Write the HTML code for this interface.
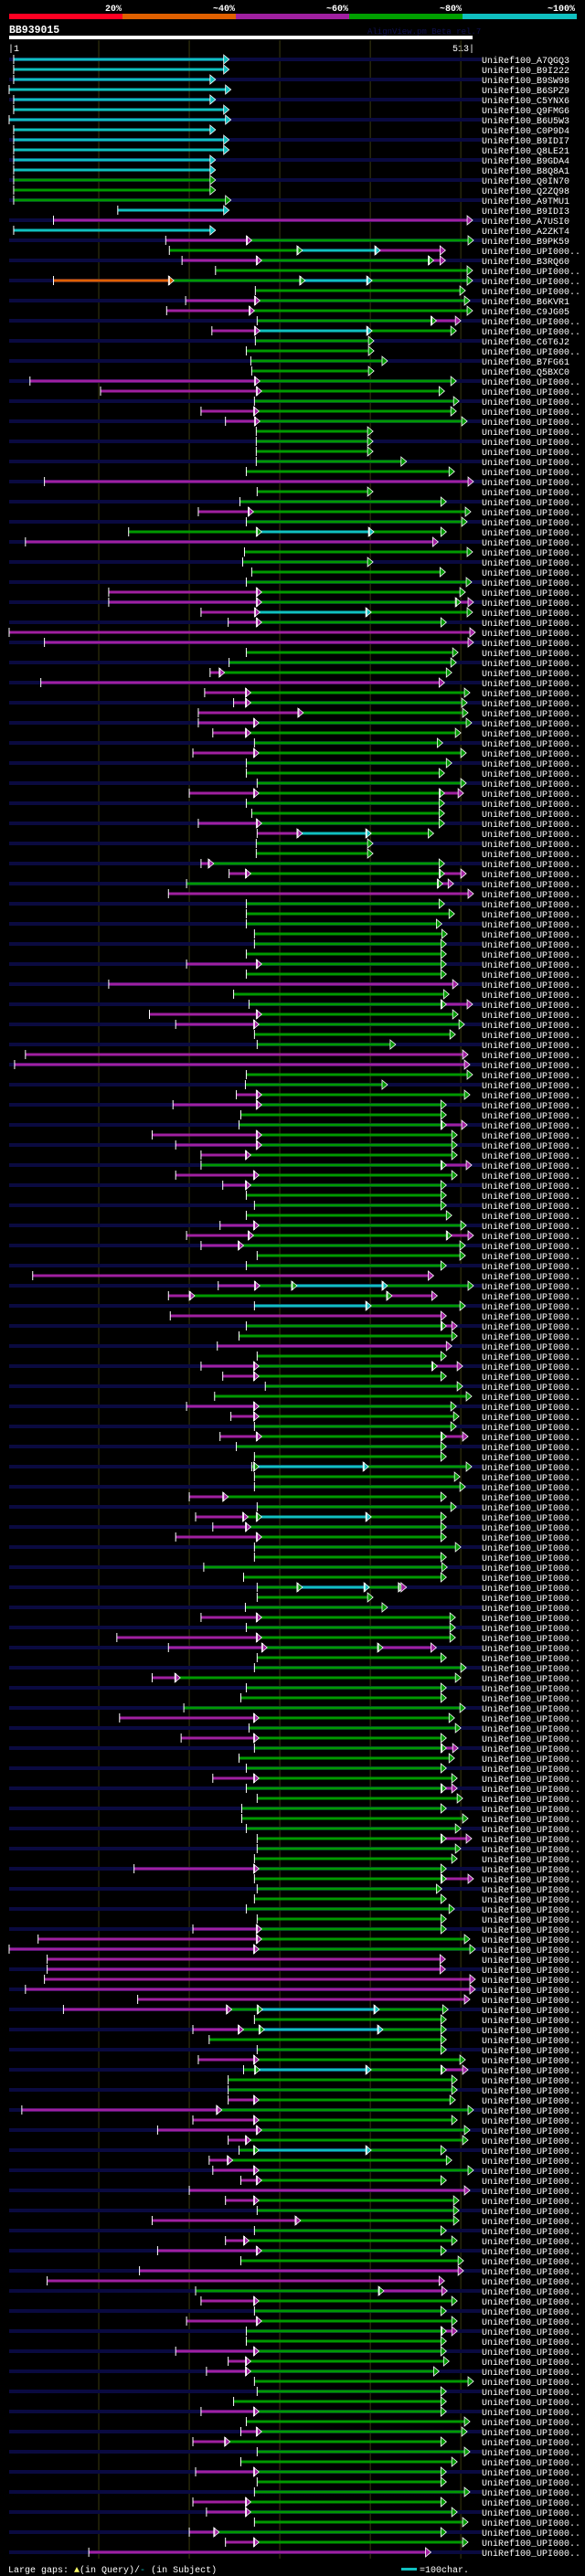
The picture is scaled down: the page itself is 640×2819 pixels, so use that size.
<!DOCTYPE html>
<html><head><meta charset="utf-8">
<style>
html,body{margin:0;padding:0;background:#000;}
svg{display:block;}
text{font-family:"Liberation Mono","DejaVu Sans Mono",monospace;}
</style></head>
<body>
<svg id="chart" width="640" height="2819" viewBox="0 0 640 2819" xmlns="http://www.w3.org/2000/svg">
  <rect x="0" y="0" width="640" height="2819" fill="#000"/>
  <g>
    <rect x="10" y="15" width="124" height="6" fill="#ff0022"/>
    <rect x="134" y="15" width="124" height="6" fill="#e06000"/>
    <rect x="258" y="15" width="124" height="6" fill="#a020a0"/>
    <rect x="382" y="15" width="124" height="6" fill="#00a000"/>
    <rect x="506" y="15" width="125" height="6" fill="#10c0c0"/>
    <text x="133" y="12" text-anchor="end" font-size="10" font-weight="bold" fill="#fff">20%</text>
    <text x="257" y="12" text-anchor="end" font-size="10" font-weight="bold" fill="#fff">~40%</text>
    <text x="381" y="12" text-anchor="end" font-size="10" font-weight="bold" fill="#fff">~60%</text>
    <text x="505" y="12" text-anchor="end" font-size="10" font-weight="bold" fill="#fff">~80%</text>
    <text x="629" y="12" text-anchor="end" font-size="10" font-weight="bold" fill="#fff">~100%</text>
  </g>
  <text x="10" y="36" font-size="11.5" font-weight="bold" fill="#fff">BB939015</text>
  <text x="402" y="37" font-size="9" fill="#101050">AlignView.pm Beta rel.7</text>
  <rect x="10" y="39" width="507" height="4" fill="#fff"/>
  <text x="9" y="56" font-size="10" fill="#fff">|1</text>
  <text x="519" y="56" text-anchor="end" font-size="10" fill="#fff">513|</text>
  <g id="grid"></g>
  <g id="rows"></g>
  <g>
    <text x="9" y="2815" font-size="10" fill="#fff">Large gaps: <tspan fill="#ffff66">▲</tspan>(in Query)/<tspan fill="#10c0c0">-</tspan> (in Subject)</text>
    <rect x="439" y="2810" width="17" height="3" fill="#10c0c0"/>
    <text x="459" y="2815" font-size="10" fill="#fff">=100char.</text>
  </g>
</svg>
<script>
const qLen = 513;
const gridTicks = [100, 200, 300, 400, 500];
const hitRows = [
"c6-239","c6-239","c6-224","c1-241","c6-224","c6-239","c1-241","c6-224","c6-239","c6-239",
"c6-224","c6-224","g6-224","g6-224","g6-241","c121-239","m50-508","c6-224","m174-264 g264-509","g178-320 c320-406 m406-478",
"m192-275 g275-465 m465-478","g229-508","o50-178 g178-323 c323-397 g397-508","g273-500","m196-273 g273-505","m175-267 g267-508","g275-468 m468-495","m225-273 c273-397 g397-490","g273-399","g263-399",
"g268-414","g269-399","m24-273 g273-490","m102-275 g275-477","g272-493","m213-272 g272-490","m240-273 g273-502","g274-398","g274-398","g274-398",
"g274-435","g263-488","m40-509","g275-398","g256-479","m210-266 g266-506","g263-502","g133-275 c275-399 g399-479","m19-470","g261-508",
"g259-398","g269-478","g263-507","m111-275 g275-500","m111-275 g275-495 m495-509","m213-273 c273-396 g396-508","m243-275 g275-479","m1-511","m40-509","g263-492",
"g244-490","m223-234 g234-485","m36-477","m217-263 g263-505","m249-263 g263-502","m210-321 g321-503","m210-272 g272-507","m226-263 g263-495","g272-475","m204-272 g272-501",
"g263-485","g263-477","g275-501","m200-272 g272-477 m477-498","g263-477","g269-477","m210-275 g275-477","m275-320 c320-396 g396-465","g274-398","g274-398",
"m213-222 g222-477","m244-263 g263-477 m477-501","g197-475 m475-487","m177-509","g263-477","g263-488","g263-474","g272-480","g272-479","g263-479",
"m197-275 g275-479","g263-479","m111-492","g249-482","g266-479 m479-508","m156-275 g275-492","m185-272 g272-499","g272-489","g275-423","m19-503",
"m7-505","g263-508","g262-414","m252-275 g275-505","m182-275 g275-479","g257-479","g255-479 m479-502","m159-275 g275-491","m185-275 g275-491","m213-263 g263-491",
"g213-479 m479-507","m185-272 g272-491","m237-263 g263-479","g263-479","g272-479","g263-485","m234-272 g272-501","m197-266 g266-485 m485-509","m213-255 g255-500","g275-500",
"g263-479","m27-465","m232-273 g273-314 c314-414 g414-509","m177-201 g201-419 m419-469","c272-396 g396-500","m179-479","g263-479 m479-491","g255-491","m231-485","g275-479",
"m213-272 g272-469 m469-497","m237-272 g272-479","g284-497","g228-507","m197-272 g272-490","m246-272 g272-493","g272-490","m234-275 g275-479 m479-503","g252-479","g272-479",
"g269-272 c272-393 g393-507","g272-494","g272-500","m200-238 g238-479","g275-490","m207-260 g260-275 c275-396 g396-479","m226-263 g263-479","m185-275 g275-479","g272-495","g272-479",
"g216-480","g260-479","g275-320 c320-394 g394-432 m432-435","g275-398","g262-414","m213-275 g275-489","g263-489","m120-275 g275-489","m177-281 g281-409 m409-468","g275-479",
"g272-501","m159-185 g185-495","g263-479","g257-479","g194-500","m123-272 g272-488","g266-495","m191-272 g272-479","g272-479 m479-492","g255-488",
"g263-479","m226-272 g272-491","g263-479 m479-491","g275-497","g258-479","g258-503","g263-495","g275-479 m479-507","g275-495","g272-491",
"m139-272 g272-479","g272-479 m479-509","g275-474","g272-479","g263-488","g275-479","m204-275 g275-479","m33-275 g275-505","m1-272 g272-511","m43-478",
"m43-478","m40-511","m19-511","m143-505","m61-242 g242-276 c276-405 g405-481","g272-479","m204-255 g255-278 c278-409 g409-479","g222-479","g275-479","m210-272 g272-500",
"g260-273 c273-396 g396-479 m479-503","g243-491","g243-491","m243-272 g272-489","m15-231 g231-509","m204-272 g272-491","m165-275 g275-505","m243-263 g263-503","g255-272 c272-396 g396-479","m222-243 g243-485",
"m226-272 g272-509","m257-275 g275-479","m200-505","m240-272 g272-493","g275-493","m159-318 g318-493","g272-479","m240-261 g261-491","m165-275 g275-479","g257-498",
"m145-498","m43-477","g207-410 m410-480","m213-272 g272-491","g272-479","m197-275 g275-491","g263-479 m479-491","g263-479","m185-272 g272-479","m243-263 g263-482",
"m219-263 g263-471","g272-509","g275-479","g249-479","m213-272 g272-479","g263-505","m257-275 g275-502","m204-240 g240-479","g275-505","g257-491",
"m207-272 g272-479","g275-479","g272-505","m204-263 g263-479","m219-263 g263-491","g272-503","m200-228 g228-479","m240-272 g272-503","m89-462"
];
const hitNames = ["A7QGQ3","B9I222","B9SW98","B6SPZ9","C5YNX6","Q9FMG6","B6U5W3","C0P9D4","B9IDI7","Q8LE21",
"B9GDA4","B8Q8A1","Q0IN70","Q2ZQ98","A9TMU1","B9IDI3","A7USI0","A2ZKT4","B9PK59","UPI000..",
"B3RQ60","UPI000..","UPI000..","UPI000..","B6KVR1","C9JG05","UPI000..","UPI000..","C6T6J2","UPI000..",
"B7FG61","Q5BXC0","UPI000..","UPI000.."];
const colorMap = {c:"#10c0c0", g:"#009900", m:"#a020a0", o:"#e06000"};

const X0 = 10, X1 = 517, ROW0 = 65, ROWH = 11;
function xScale(r){ return X0 + (r - 1) * (X1 - X0) / (qLen - 1); }
function yRow(i){ return ROW0 + i * ROWH; }
const NS = "http://www.w3.org/2000/svg";
function mk(tag, attrs){ const e = document.createElementNS(NS, tag); for (const k in attrs) e.setAttribute(k, attrs[k]); return e; }

const grid = document.getElementById("grid");
gridTicks.forEach(t => {
  const ln = mk("line", {x1: xScale(t), x2: xScale(t), y1: 44, y2: 2800, stroke: "#3a3a10", "stroke-width": 1});
  
  
  grid.appendChild(ln);
});

const rowsG = document.getElementById("rows");
hitRows.forEach((spec, i) => {
  const y = yRow(i);
  const g = mk("g", {});
  
  
  if (i % 2 === 0) {
    const bg = mk("rect", {x: 10, y: y - 2, width: 517, height: 4, fill: "#0a0a40"});
    
    
    g.appendChild(bg);
  }
  const segs = spec.split(" ").map(s => { const p = s.slice(1).split("-"); return {c: s[0], a: +p[0], b: +p[1]}; });
  segs.forEach(s => {
    const r = mk("rect", {x: xScale(s.a), y: y - 1.5, width: Math.max(1, xScale(s.b) - xScale(s.a)), height: 3, fill: colorMap[s.c]});
    
    
    g.appendChild(r);
  });
  segs.forEach(s => {
    const xe = xScale(s.b);
    const ar = mk("polygon", {points: (xe-1)+","+(y-5)+" "+(xe+5)+","+y+" "+(xe-1)+","+(y+5), fill: colorMap[s.c], stroke: "#fff", "stroke-width": 0.8});
    
    
    g.appendChild(ar);
  });
  const xs = xScale(segs[0].a);
  const tk = mk("line", {x1: xs, x2: xs, y1: y - 5, y2: y + 5, stroke: "#fff", "stroke-width": 1});
  
  
  g.appendChild(tk);
  for (let k = 1; k < segs.length; k++) {
    const xm = xScale(segs[k].a);
    const t2 = mk("line", {x1: xm, x2: xm, y1: y - 5, y2: y + 5, stroke: "#fff", "stroke-width": 1});
    
    
    g.appendChild(t2);
  }
  const lbl = mk("text", {x: 527, y: y + 4, "font-size": 10, fill: "#fff"});
  lbl.textContent = "UniRef100_" + (hitNames[i] || "UPI000..");
  
  
  g.appendChild(lbl);
  rowsG.appendChild(g);
});
</script>
</body></html>
